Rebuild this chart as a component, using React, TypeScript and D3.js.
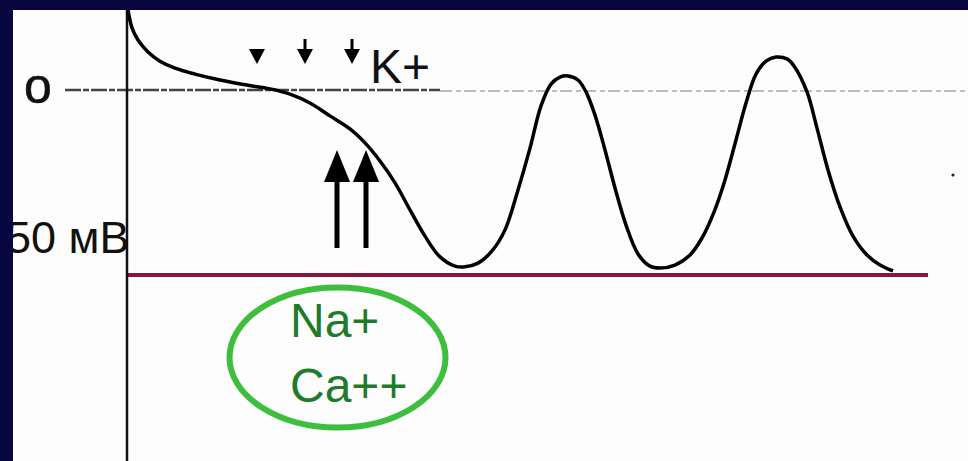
import React from "react";
import * as d3 from "d3";

// Membrane potential of a pacemaker cell (time in ms, potential in mV)
const timeMs = [1, 5, 11, 21, 33, 48, 68, 93, 118, 143, 163, 183, 203, 223, 238, 253, 268, 283, 298, 313, 328, 338, 351, 365, 378, 391, 403, 414, 424, 433, 441, 451, 459, 468, 478, 488, 499, 511, 523, 533, 548, 563, 575, 587, 598, 609, 619, 629, 639, 649, 660, 667, 680, 690, 701, 713, 726, 740, 753, 766];
const potentialMv = [21.6, 16.8, 13.5, 10.3, 7.8, 5.9, 4.3, 2.7, 1.4, 0.3, -1.1, -3.5, -7.0, -10.5, -14.3, -19.2, -25.1, -32.4, -39.5, -45.1, -47.6, -47.8, -46.8, -43.5, -37.8, -27.0, -15.7, -4.3, 1.6, 3.5, 3.8, 2.7, -0.5, -6.8, -16.2, -26.5, -36.5, -44.3, -47.6, -48.1, -47.3, -44.6, -40.0, -33.0, -24.3, -13.5, -3.5, 4.3, 7.8, 8.9, 8.4, 6.5, -0.5, -10.3, -21.6, -31.6, -39.5, -44.6, -47.3, -48.9];

// Ion currents: K+ outflow (down arrows) and Na+/Ca++ inflow (up arrows)
const kOutflowMs = [130, 178, 225];
const inflowMs = [210, 239];
const thresholdMv = -50;

export default function App() {
  const W = 968;
  const H = 461;
  const x = d3.scaleLinear().domain([0, 800]).range([127, 927]);
  const y = d3.scaleLinear().domain([thresholdMv, 0]).range([275, 90]);

  const line = d3
    .line<number>()
    .x((_, i) => x(timeMs[i]))
    .y((d) => y(d))
    .curve(d3.curveCatmullRom.alpha(0.5));

  const navy = "#07063f";
  const font = "'Liberation Sans', Arial, sans-serif";

  return (
    <svg
      width={W}
      height={H}
      style={{ position: "absolute", left: 0, top: 0, background: "#fff" }}
      fontFamily={font}
    >
      <rect x={0} y={0} width={W} height={H} fill="#fdfdfd" />

      {/* zero level */}
      <line x1={65} x2={440} y1={y(0)} y2={y(0)} stroke="#444" strokeWidth={2.5} strokeDasharray="16 2 6 2" />
      <line x1={440} x2={W} y1={y(0) + 1} y2={y(0) + 1} stroke="#bbb" strokeWidth={2} strokeDasharray="12 4 5 3" />
      <text x={24} y={103} fontSize={50} fill="#111" stroke="#111" strokeWidth={0.6}>o</text>

      {/* threshold level */}
      <line x1={x(0)} x2={x(801)} y1={y(thresholdMv)} y2={y(thresholdMv)} stroke="#8a1538" strokeWidth={4} />
      <text x={6} y={253} fontSize={45} fill="#111">50 мВ</text>

      {/* vertical axis */}
      <line x1={127} x2={127} y1={8} y2={H} stroke="#111" strokeWidth={2.5} />

      {/* potential trace */}
      <path d={line(potentialMv) ?? ""} fill="none" stroke="#000" strokeWidth={3.5} strokeLinejoin="round" />

      {/* K+ outflow arrows */}
      {kOutflowMs.map((t, i) => {
        const cx = x(t);
        const tip = 64;
        return (
          <g key={`k${i}`}>
            {i > 0 && <line x1={cx} x2={cx} y1={39} y2={tip - 6} stroke="#000" strokeWidth={3} />}
            <path d={`M${cx - 8},${tip - 15} L${cx + 8},${tip - 15} L${cx},${tip} Z`} fill="#000" />
          </g>
        );
      })}
      <text x={370} y={83} fontSize={48} fill="#111">K+</text>

      {/* Na+ / Ca++ inflow arrows */}
      {inflowMs.map((t, i) => {
        const cx = x(t);
        const tip = y(-16.2);
        const base = y(-42.7);
        return (
          <g key={`in${i}`}>
            <line x1={cx} x2={cx} y1={tip + 20} y2={base} stroke="#000" strokeWidth={5} />
            <path d={`M${cx - 13},${tip + 32} L${cx + 13},${tip + 32} L${cx},${tip} Z`} fill="#000" />
          </g>
        );
      })}

      {/* inward ions */}
      <ellipse cx={337.5} cy={357.5} rx={108} ry={70} fill="none" stroke="#3dbf3d" strokeWidth={6} />
      <text x={290} y={337} fontSize={48} fill="#1f7a2a">Na+</text>
      <text x={290} y={402} fontSize={48} fill="#1f7a2a">Ca++</text>

      <circle cx={953} cy={175} r={1.6} fill="#222" />

      {/* frame */}
      <rect x={0} y={0} width={W} height={10} fill={navy} />
      <rect x={0} y={0} width={13} height={H} fill={navy} />
    </svg>
  );
}
